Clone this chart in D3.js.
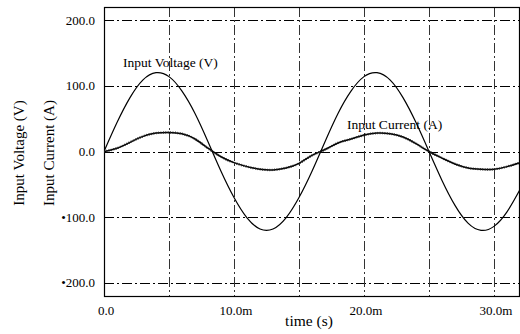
<!DOCTYPE html>
<html>
<head>
<script src="https://d3js.org/d3.v7.min.js"></script>
<style>
  body { margin: 0; background: #fff; }
</style>
</head>
<body>
<svg width="520" height="334" font-family="'Liberation Serif', 'Times New Roman', Times, serif"></svg>
<script>
const timeMs = [0,1,2,3,4,5,6,7,8,9,10,11,12,13,14,15,16,17,18,19,20,21,22,23,24,25,26,27,28,29,30,31,32];
const voltage = [0,44,82,109,120,114,92,58,15,-30,-70,-101,-118,-118,-101,-70,-30,15,58,92,114,120,109,82,44,0,-44,-82,-109,-120,-114,-92,-58];
const current = [0,5,14,23,28,29,27,19,5,-8,-17,-23,-27,-28,-25,-18,-6,3,13,19,25,28,27,22,12,0,-10,-19,-25,-27,-27,-23,-17];

const yTicks = [200, 100, 0, -100, -200];
const yTickLabels = ["200.0", "100.0", "0.0", "\u2022100.0", "\u2022200.0"];
const xGrid = [5, 10, 15, 20, 25, 30];
const xTicks = [0, 10, 20, 30];
const xTickLabels = ["0.0", "10.0m", "20.0m", "30.0m"];

let svg = d3.select("svg");
const pLeft = 104, pRight = 519, pTop = 7, pBottom = 296;

let xScale = d3.scaleLinear().domain([0, 32]).range([pLeft, pLeft + 32 * 13]);
let yScale = d3.scaleLinear().domain([-220, 220]).range([pBottom, pTop]);

// gridlines, dash-dot
let grid = svg.append("g")
    .attr("stroke", "#000")
    .attr("stroke-width", 1)
    .attr("stroke-dasharray", "10,3,2,3");
grid.selectAll("line.h").data(yTicks).join("line")
    .attr("class", "h")
    .attr("x1", pLeft).attr("x2", pRight)
    .attr("y1", d => Math.round(yScale(d)) + 0.5)
    .attr("y2", d => Math.round(yScale(d)) + 0.5);
grid.selectAll("line.v").data(xGrid).join("line")
    .attr("class", "v")
    .attr("y1", pTop).attr("y2", pBottom)
    .attr("x1", d => Math.round(xScale(d)) + 0.5)
    .attr("x2", d => Math.round(xScale(d)) + 0.5)
    .attr("stroke", "#333");

// frame
svg.append("rect")
    .attr("x", pLeft + 0.5).attr("y", pTop + 0.5)
    .attr("width", pRight - pLeft).attr("height", pBottom - pTop)
    .attr("fill", "none").attr("stroke", "#000").attr("stroke-width", 1.2);

// y tick labels
svg.selectAll("text.ylab").data(yTicks).join("text")
    .attr("class", "ylab")
    .attr("x", 95)
    .attr("y", d => yScale(d) + 4.5)
    .attr("text-anchor", "end")
    .attr("font-size", 13)
    .text((d, i) => yTickLabels[i]);

// x tick labels
svg.selectAll("text.xlab").data(xTicks).join("text")
    .attr("class", "xlab")
    .attr("x", d => xScale(d) + 2)
    .attr("y", 315)
    .attr("text-anchor", "middle")
    .attr("font-size", 13)
    .text((d, i) => xTickLabels[i]);

svg.append("text")
    .attr("x", 309).attr("y", 326)
    .attr("text-anchor", "middle").attr("font-size", 15.5)
    .text("time (s)");

svg.append("text")
    .attr("transform", "translate(24,153) rotate(-90)")
    .attr("text-anchor", "middle").attr("font-size", 15)
    .text("Input Voltage (V)");
svg.append("text")
    .attr("transform", "translate(54,153) rotate(-90)")
    .attr("text-anchor", "middle").attr("font-size", 15)
    .text("Input Current (A)");

// curves
svg.append("clipPath").attr("id", "plot")
    .append("rect").attr("x", pLeft).attr("y", pTop)
    .attr("width", pRight - pLeft + 1).attr("height", pBottom - pTop);

let lineGen = d3.line()
    .x((d, i) => xScale(timeMs[i]))
    .y(d => yScale(d))
    .curve(d3.curveNatural);

svg.append("path")
    .datum(voltage)
    .attr("clip-path", "url(#plot)")
    .attr("fill", "none")
    .attr("stroke", "#000")
    .attr("stroke-width", 1.2)
    .attr("d", lineGen);

// current trace is a bit ragged, fake the ripple with a fine dashed overlay
svg.append("path")
    .datum(current)
    .attr("clip-path", "url(#plot)")
    .attr("fill", "none")
    .attr("stroke", "#000")
    .attr("stroke-width", 1.5)
    .attr("d", lineGen);
svg.append("path")
    .datum(current)
    .attr("clip-path", "url(#plot)")
    .attr("fill", "none")
    .attr("stroke", "#222")
    .attr("stroke-width", 2.4)
    .attr("stroke-dasharray", "0.8,1.6")
    .attr("d", lineGen);

// curve labels
svg.append("text")
    .attr("x", 123).attr("y", 67)
    .attr("font-size", 13.5)
    .text("Input Voltage (V)");
svg.append("text")
    .attr("x", 347).attr("y", 129)
    .attr("font-size", 13.5)
    .text("Input Current (A)");
</script>
</body>
</html>
